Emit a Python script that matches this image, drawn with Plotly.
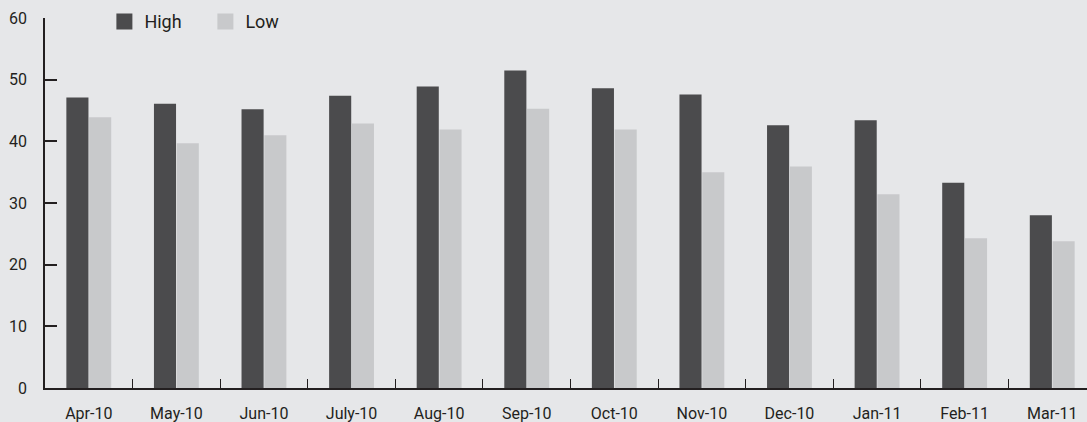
import plotly.graph_objects as go

# Monthly high / low values, Apr-10 to Mar-11
months = ["Apr-10", "May-10", "Jun-10", "July-10", "Aug-10", "Sep-10",
          "Oct-10", "Nov-10", "Dec-10", "Jan-11", "Feb-11", "Mar-11"]
high = [47.1, 46.1, 45.2, 47.4, 48.9, 51.5, 48.6, 47.6, 42.6, 43.4, 33.3, 28.0]
low = [43.9, 39.7, 41.0, 42.9, 41.9, 45.3, 41.9, 35.0, 35.9, 31.4, 24.3, 23.8]
y_ticks = [0, 10, 20, 30, 40, 50, 60]

HIGH_COLOR = "#4b4b4d"
LOW_COLOR = "#c8c9cb"
BG = "#e6e7e9"
INK = "#231f20"
FONT = "Roboto"

fig = go.Figure()
fig.add_trace(go.Bar(x=months, y=high, name="High", marker_color=HIGH_COLOR,
                     marker_line_width=0, showlegend=False))
fig.add_trace(go.Bar(x=months, y=low, name="Low", marker_color=LOW_COLOR,
                     marker_line_width=0, showlegend=False))

# Legend entries drawn as square markers so the swatches are larger
for name, color in [("High", HIGH_COLOR), ("Low", LOW_COLOR)]:
    fig.add_trace(go.Scatter(x=[None], y=[None], mode="markers", name=name,
                             marker=dict(symbol="square", size=16, color=color)))

fig.update_layout(
    width=1087, height=422,
    margin=dict(l=45, r=0, t=18, b=34),
    paper_bgcolor=BG, plot_bgcolor=BG,
    barmode="group", bargap=0.48, bargroupgap=0.03,
    font=dict(family=FONT, size=16, color=INK),
    legend=dict(orientation="h", x=0.057, xanchor="left", y=0.99, yanchor="middle",
                bgcolor="rgba(0,0,0,0)", font=dict(size=18, color=INK),
                entrywidth=56, itemsizing="trace"),
    showlegend=True,
)
fig.update_xaxes(
    type="category", categoryorder="array", categoryarray=months,
    range=[-0.5, 11.397], showline=True, linecolor=INK, linewidth=1.5,
    ticks="inside", tickson="boundaries", ticklen=9, tickcolor=INK, tickwidth=1.2,
    showgrid=False, zeroline=False, ticklabelstandoff=10,
    tickfont=dict(size=16, color=INK), fixedrange=True,
)
fig.update_yaxes(
    range=[0, 60], tickvals=y_ticks, showline=True, linecolor=INK, linewidth=1.5,
    ticks="inside", ticklen=12, tickcolor=INK, tickwidth=1.5,
    showgrid=False, zeroline=False, ticklabelstandoff=13,
    tickfont=dict(size=16, color=INK), fixedrange=True,
)

fig.write_html("out.html")
